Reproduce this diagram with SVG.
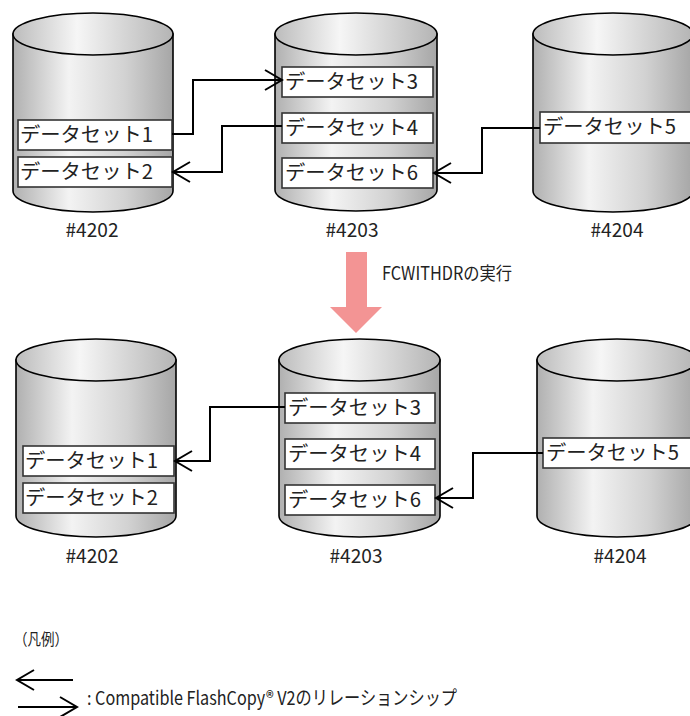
<svg xmlns="http://www.w3.org/2000/svg" width="690" height="716" viewBox="0 0 690 716">
<defs>
<linearGradient id="body" x1="0" y1="0" x2="1" y2="0">
<stop offset="0" stop-color="#b0b0b0"/>
<stop offset="0.35" stop-color="#f3f3f3"/>
<stop offset="0.7" stop-color="#d2d2d2"/>
<stop offset="1" stop-color="#a6a6a6"/>
</linearGradient>
<linearGradient id="top" x1="0" y1="0" x2="1" y2="0">
<stop offset="0" stop-color="#bcbcbc"/>
<stop offset="0.4" stop-color="#f6f6f6"/>
<stop offset="1" stop-color="#b4b4b4"/>
</linearGradient>
<marker id="ah" markerUnits="userSpaceOnUse" markerWidth="24" markerHeight="24" viewBox="-20 -12 24 24" refX="0" refY="0" orient="auto">
<path d="M-17,-10 L0,0 L-17,10" fill="none" stroke="#000" stroke-width="2"/>
</marker>
</defs>
<style>
.cyl{fill:url(#body);stroke:#000;stroke-width:1.6}
.cap{fill:url(#top);stroke:#000;stroke-width:1.6}
.box{fill:#fff;stroke:#333;stroke-width:1.6}
.ds{font-family:"Noto Sans CJK JP","Noto Sans",sans-serif;font-size:20px;fill:#222}
.lbl{font-family:"Noto Sans CJK JP","Noto Sans",sans-serif;font-size:19px;fill:#222;text-anchor:middle}
.txt{font-family:"Noto Sans CJK JP","Noto Sans",sans-serif;fill:#222}
.con{fill:none;stroke:#000;stroke-width:2;marker-end:url(#ah)}
</style>

<g id="vol-4202-top">
<path class="cyl" d="M13,34 V191 A80,21 0 0 0 173,191 V34 Z"/>
<ellipse class="cap" cx="93" cy="34" rx="80" ry="21"/>
<rect class="box" x="18" y="120" width="154" height="30"/>
<text class="ds" x="20" y="142" textLength="133" lengthAdjust="spacingAndGlyphs">データセット1</text>
<rect class="box" x="18" y="157" width="154" height="30"/>
<text class="ds" x="20" y="179" textLength="133" lengthAdjust="spacingAndGlyphs">データセット2</text>
<text class="lbl" x="92" y="237" textLength="53" lengthAdjust="spacingAndGlyphs">#4202</text>
</g>

<g id="vol-4203-top">
<path class="cyl" d="M275,34 V190 A81,21 0 0 0 437,190 V34 Z"/>
<ellipse class="cap" cx="356" cy="34" rx="81" ry="21"/>
<rect class="box" x="282" y="67" width="151" height="30"/>
<text class="ds" x="285" y="89" textLength="133" lengthAdjust="spacingAndGlyphs">データセット3</text>
<rect class="box" x="282" y="113" width="151" height="30"/>
<text class="ds" x="285" y="135" textLength="133" lengthAdjust="spacingAndGlyphs">データセット4</text>
<rect class="box" x="282" y="158" width="151" height="30"/>
<text class="ds" x="285" y="180" textLength="133" lengthAdjust="spacingAndGlyphs">データセット6</text>
<text class="lbl" x="352" y="237" textLength="53" lengthAdjust="spacingAndGlyphs">#4203</text>
</g>

<g id="vol-4204-top">
<path class="cyl" d="M533,34 V191 A80,21 0 0 0 693,191 V34 Z"/>
<ellipse class="cap" cx="613" cy="34" rx="80" ry="21"/>
<rect class="box" x="540" y="112" width="160" height="31"/>
<text class="ds" x="543" y="134" textLength="133" lengthAdjust="spacingAndGlyphs">データセット5</text>
<text class="lbl" x="617" y="237" textLength="53" lengthAdjust="spacingAndGlyphs">#4204</text>
</g>

<g id="step">
<polygon points="346,252 367,252 367,307 382,307 356,333 330,307 346,307" fill="#f39494"/>
<text class="txt" x="382" y="280" font-size="18" textLength="130" lengthAdjust="spacingAndGlyphs">FCWITHDRの実行</text>
</g>

<g id="vol-4202-bottom">
<path class="cyl" d="M16,360 V516 A80,21 0 0 0 176,516 V360 Z"/>
<ellipse class="cap" cx="96" cy="360" rx="80" ry="21"/>
<rect class="box" x="23" y="446" width="151" height="30"/>
<text class="ds" x="25" y="468" textLength="133" lengthAdjust="spacingAndGlyphs">データセット1</text>
<rect class="box" x="23" y="483" width="151" height="30"/>
<text class="ds" x="25" y="505" textLength="133" lengthAdjust="spacingAndGlyphs">データセット2</text>
<text class="lbl" x="92" y="563" textLength="53" lengthAdjust="spacingAndGlyphs">#4202</text>
</g>

<g id="vol-4203-bottom">
<path class="cyl" d="M279,360 V516 A80.5,21 0 0 0 440,516 V360 Z"/>
<ellipse class="cap" cx="359.5" cy="360" rx="80.5" ry="21"/>
<rect class="box" x="285" y="393" width="150" height="30"/>
<text class="ds" x="288" y="415" textLength="133" lengthAdjust="spacingAndGlyphs">データセット3</text>
<rect class="box" x="285" y="439" width="150" height="30"/>
<text class="ds" x="288" y="461" textLength="133" lengthAdjust="spacingAndGlyphs">データセット4</text>
<rect class="box" x="285" y="485" width="150" height="30"/>
<text class="ds" x="288" y="507" textLength="133" lengthAdjust="spacingAndGlyphs">データセット6</text>
<text class="lbl" x="356" y="563" textLength="53" lengthAdjust="spacingAndGlyphs">#4203</text>
</g>

<g id="vol-4204-bottom">
<path class="cyl" d="M537,360 V516 A80,21 0 0 0 697,516 V360 Z"/>
<ellipse class="cap" cx="617" cy="360" rx="80" ry="21"/>
<rect class="box" x="543" y="438" width="160" height="30"/>
<text class="ds" x="546" y="460" textLength="133" lengthAdjust="spacingAndGlyphs">データセット5</text>
<text class="lbl" x="620" y="563" textLength="53" lengthAdjust="spacingAndGlyphs">#4204</text>
</g>

<g id="connectors">
<path class="con" d="M172,134 H193 V80 H282"/>
<path class="con" d="M282,126 H222 V172 H173"/>
<path class="con" d="M540,128 H482 V173 H434"/>
<path class="con" d="M285,407 H210 V461 H175"/>
<path class="con" d="M543,453 H473 V498 H436"/>
</g>

<g id="legend">
<text class="txt" x="14" y="645" font-size="16" textLength="54" lengthAdjust="spacingAndGlyphs">（凡例）</text>
<path class="con" d="M73,680 H17"/>
<path class="con" d="M18,707 H77"/>
<text class="txt" x="87" y="705" font-size="19" textLength="370" lengthAdjust="spacingAndGlyphs">: Compatible FlashCopy® V2のリレーションシップ</text>
</g>
</svg>
